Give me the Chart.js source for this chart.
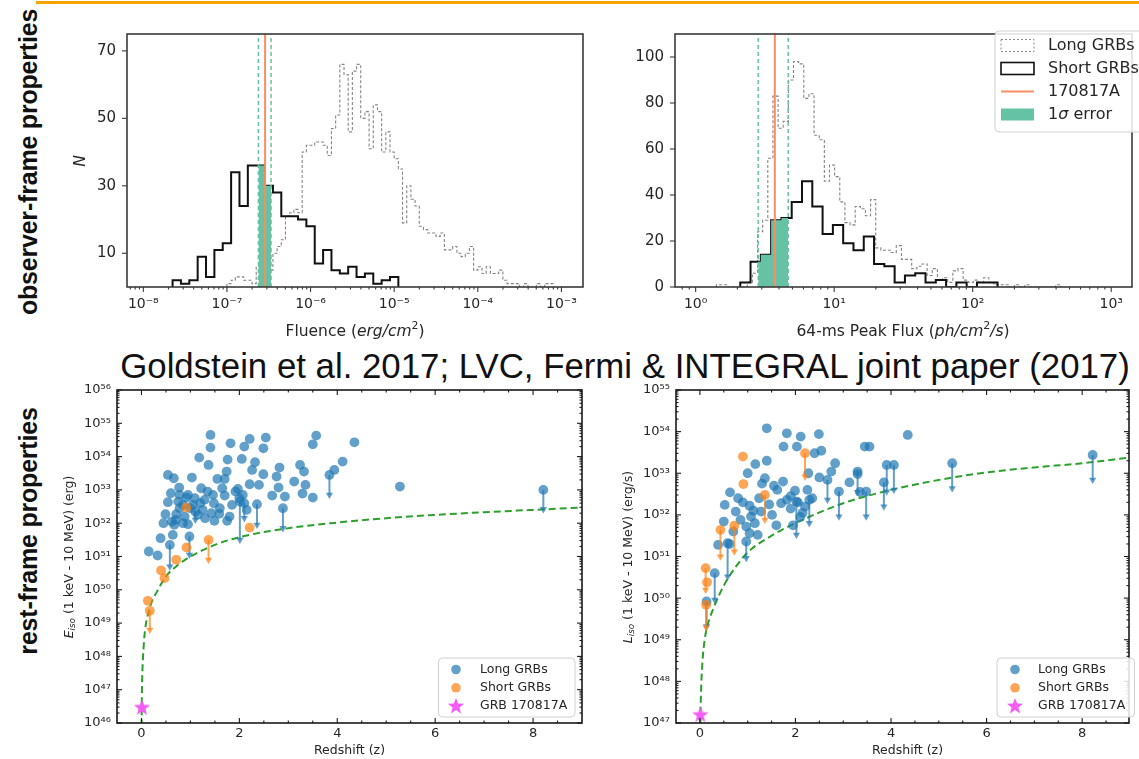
<!DOCTYPE html>
<html>
<head>
<meta charset="utf-8">
<script src="https://cdn.jsdelivr.net/npm/chart.js@4.4.1/dist/chart.umd.min.js"></script>
<style>
body { margin: 0; background: #fff; width: 1139px; height: 759px; overflow: hidden; position: relative; }
canvas { position: absolute; left: 0; top: 0; }
#bar { position: absolute; left: 36px; top: 1px; width: 1103px; height: 3px; background: #f5a300; }
.side { position: absolute; transform: translate(-50%, -50%) rotate(-90deg); white-space: nowrap;
        font: bold 25px "Liberation Sans", sans-serif; color: #111; letter-spacing: -0.2px; }
#ref { position: absolute; left: 625px; top: 366px; transform: translate(-50%, -50%); white-space: nowrap;
       font: 34.8px "Liberation Sans", sans-serif; color: #111; }
</style>
</head>
<body>
<div id="bar"></div>
<div class="side" style="left:28px;top:162px">observer-frame properties</div>
<div class="side" style="left:28px;top:531px">rest-frame properties</div>
<div id="ref">Goldstein et al. 2017; LVC, Fermi &amp; INTEGRAL joint paper (2017)</div>
<canvas id="cFluence" width="1139" height="759"></canvas>
<canvas id="cFlux" width="1139" height="759"></canvas>
<canvas id="cEiso" width="1139" height="759"></canvas>
<canvas id="cLiso" width="1139" height="759"></canvas>
<script>
const W = 1139, H = 759;
const FONT = '"DejaVu Sans", sans-serif';
Chart.defaults.font.family = FONT;
Chart.defaults.color = '#262626';

// ===================== DATA: observer frame =====================
// fluence histograms, bins in log10(erg/cm2)
const fluenceShortStart = -7.65, fluenceShortWidth = 0.1;
const fluenceShort = [2,1,2,9,3,11,13,34,24,36,36,30,28,21,21,20,18,7,11,5,4,6,3,4,1,2,3];
const fluenceLongStart = -7.0, fluenceLongWidth = 0.05;
const fluenceLong = [1,2,3,3,2,2,1,6,8,2, 5,10,12,14,21,22,23,22,40,42,
                     42,43,43,42,39,47,51,66,63,46, 64,66,50,52,41,54,52,40,46,40,
                     38,35,19,30,26,24,18,17,16,16, 15,16,11,11,12,10,9,10,12,5,
                     6,4,6,4,4,5,2,1,1,1, 0,1,0,0,1,0,1,1];
const fluence170817 = [2.38e-7, 2.86e-7, 3.37e-7];   // low, value, high
const fluenceTicks = [1e-8, 1e-7, 1e-6, 1e-5, 1e-4, 1e-3];
const fluenceCountTicks = [10, 30, 50, 70];

// 64-ms peak flux histograms, bins in log10(ph/cm2/s)
const fluxShortStart = 0.322, fluxShortWidth = 0.0743;
const fluxShort = [2,11,14,29,30,37,46,35,23,27,19,16,22,10,9,2,5,6,2,3,0,2,0,2,2];
const fluxLongStart = 0.15, fluxLongWidth = 0.0371;
const fluxLong = [1,1,0,0,0,0,2,6,24,29, 56,83,69,72,90,98,97,82,84,66,
                  64,46,53,48,37,28,27,35,34,31, 38,17,16,16,15,18,12,12,8,9,
                  10,5,8,3,4,2,7,8,3,2, 3,2,4,2,1,1,1,0,1,0,
                  1,0,0,0,0,0,1];
const flux170817 = [2.83, 3.73, 4.66];
const fluxTicks = [1, 10, 100, 1000];
const fluxCountTicks = [0, 20, 40, 60, 80, 100];

// ===================== DATA: rest frame [z, log10 value] =====================
const eisoLong = [[1.41,54.65],[1.41,54.27],[1.82,54.40],[2.21,54.53],[2.10,54.30],[2.54,54.57],[2.49,54.25],[3.57,54.63],[3.50,54.37],[4.35,54.43],
  [1.18,53.97],[1.37,53.75],[1.76,53.91],[2.05,53.93],[2.32,53.83],[2.26,53.60],[2.82,53.67],[3.24,53.75],[3.32,53.55],[4.11,53.85],[3.94,53.60],
  [0.54,53.45],[0.66,53.35],[1.03,53.37],[1.55,53.33],[1.70,53.33],[1.74,53.55],[2.49,53.47],[2.76,53.40],[3.12,53.25],[3.35,53.15],[2.80,53.07],
  [2.93,52.80],[2.67,52.83],[3.29,52.89],[3.50,52.77],[2.21,53.17],[1.97,53.03],[1.22,53.05],[0.77,53.07],[0.78,52.85],[5.28,53.10],
  [0.54,52.63],[0.75,52.65],[0.92,52.77],[1.09,52.75],[1.29,52.70],[1.46,52.85],[1.48,52.60],[1.70,52.83],[1.85,52.55],[1.92,52.95],[2.07,52.85],[0.78,52.45],
  [0.49,52.27],[0.71,52.27],[0.88,52.20],[1.25,52.40],[1.43,52.30],[1.59,52.28],[1.75,52.07],[1.49,52.07],
  [0.67,51.95],[0.85,52.00],[0.95,51.97],[0.64,51.65],[0.39,51.55],[0.15,51.15],[0.33,51.03],
  [1.05,52.55],[1.15,52.25],[0.62,52.05],
  [0.60,52.90],[0.85,52.55],[1.00,52.45],[1.20,52.60],[1.35,52.95],[1.60,52.45],[1.80,52.20],[2.00,52.75],
  [2.15,52.40],[0.70,52.10],[0.95,52.85],[1.30,52.15],[0.45,52.00],[1.65,53.05],[2.40,53.15]];
const eisoLongLimits = [[2.01,52.65,51.50],[2.36,52.57,51.95],[2.89,52.45,51.85],[3.84,53.45,52.85],[1.10,52.35,52.10],
  [0.98,51.60,51.05],[0.58,51.35,50.70],[2.10,52.60,52.15],[8.21,53.00,52.42]];
const eisoShort = [[0.915,52.47],[2.21,51.87],[0.92,51.27],[0.71,50.90],[0.40,50.58],[0.47,50.35],[0.13,49.67]];
const eisoShortLimits = [[1.37,51.50,50.90],[0.17,49.37,48.80]];
const eisoGRB = [[0.0098,46.47]];
const eisoCurve = [[0.003,45.9],[0.005,46.4],[0.01,47.0],[0.02,47.6],[0.04,48.2],[0.07,48.75],[0.1,49.05],[0.15,49.35],[0.2,49.6],
  [0.3,49.9],[0.5,50.4],[0.75,50.75],[1,51.0],[1.5,51.35],[2,51.58],[3,51.85],[4,52.02],[5,52.15],[6,52.25],[7,52.33],[8,52.4],[9,52.47]];

const lisoLong = [[1.40,54.08],[1.82,53.96],[2.11,53.88],[2.49,53.94],[1.75,53.64],[2.03,53.64],[3.45,53.64],[3.55,53.64],[4.35,53.92],
  [2.40,53.48],[2.54,53.54],[1.16,53.22],[1.40,53.30],[1.00,53.00],[2.83,53.24],[2.27,53.00],[2.75,53.04],
  [1.36,52.88],[1.74,52.80],[1.55,52.70],[2.50,52.90],[3.13,52.78],[0.63,52.54],[0.52,52.24],[1.04,52.22],[1.24,52.40],[1.62,52.60],[1.82,52.36],[1.99,52.58],
  [0.75,52.08],[0.85,51.88],[1.07,51.96],[1.28,52.08],[1.51,52.00],[0.50,51.84],[0.97,51.72],[1.04,51.56],[1.21,51.52],[0.38,51.28],
  [1.90,52.15],[2.05,52.30],[2.20,52.20],[1.70,52.28],[2.10,51.95],[0.90,52.30],[1.12,52.10],[3.35,52.55],[3.30,52.98],[1.90,52.45],[2.25,52.60],[0.62,51.30],
  [0.80,52.40],[1.15,51.80],[1.45,52.25],[1.95,51.75],[2.15,52.05],[0.70,51.60],[1.30,52.75],[2.35,52.40],[1.60,51.75]];
const lisoLongLimits = [[3.30,53.04,52.55],[3.91,53.20,52.56],[4.06,53.20,52.60],[2.67,52.84,52.36],[2.91,52.56,51.96],[3.48,52.56,51.96],
  [3.85,52.78,52.20],[2.02,52.32,51.52],[2.29,52.36,51.80],[0.58,51.32,50.52],[0.97,51.36,50.96],[0.31,50.60,49.96],
  [5.28,53.24,52.64],[8.22,53.44,52.84],[0.14,49.92,49.32]];
const lisoShort = [[0.90,53.40],[0.91,52.74],[0.15,50.38]];
const lisoShortLimits = [[2.20,53.48,52.92],[1.36,52.48,51.88],[0.43,51.64,51.00],[0.72,51.74,51.12],[0.12,50.72,50.20],[0.13,49.84,49.30]];
const lisoGRB = [[0.0098,47.2]];
const lisoCurve = [[0.003,45.9],[0.005,46.4],[0.01,47.0],[0.02,47.6],[0.05,48.4],[0.1,49.0],[0.15,49.3],[0.2,49.5],[0.3,49.8],
  [0.5,50.3],[0.75,50.75],[1,51.1],[1.5,51.5],[2,51.8],[3,52.28],[4,52.6],[5,52.84],[6,53.02],[7,53.14],[8,53.24],[9,53.38]];

const redshiftTicks = [0, 2, 4, 6, 8];
const redshiftMinor = [0.5, 1, 1.5, 2.5, 3, 3.5, 4.5, 5, 5.5, 6.5, 7, 7.5, 8.5];

// ===================== helpers =====================
const BLUE = 'rgba(31,119,180,0.7)';
const ORANGE = 'rgba(255,127,14,0.7)';
const GREEN = '#66c2a5';
const SALMON = '#fc8d62';
const pow = v => Math.pow(10, v);
const supMap = {'-': '\u207b', '0': '\u2070', '1': '\u00b9', '2': '\u00b2', '3': '\u00b3', '4': '\u2074',
                '5': '\u2075', '6': '\u2076', '7': '\u2077', '8': '\u2078', '9': '\u2079'};
const pow10Label = v => '10' + String(Math.round(Math.log10(v))).split('').map(c => supMap[c]).join('');

function decades(a, b) {
  const out = [];
  for (let e = a; e <= b; e++) out.push(pow(e));
  return out;
}
function minorLog(a, b) {
  const out = [];
  for (let e = a; e <= b; e++) for (let k = 2; k <= 9; k++) out.push(k * pow(e));
  return out;
}

function histPoints(start, width, counts) {
  const pts = [{x: pow(start), y: 0}];
  counts.forEach((c, i) => pts.push({x: pow(start + i * width), y: c}));
  pts.push({x: pow(start + counts.length * width), y: 0});
  return pts;
}
// part of a histogram between lo and hi, for the filled 1-sigma band
function histSlice(start, width, counts, lo, hi) {
  const a = Math.log10(lo), b = Math.log10(hi);
  const at = v => counts[Math.floor((v - start) / width)] || 0;
  const pts = [{x: lo, y: at(a)}];
  for (let i = 0; i <= counts.length; i++) {
    const e = start + i * width;
    if (e > a && e < b) pts.push({x: pow(e), y: counts[i] || 0});
  }
  pts.push({x: hi, y: at(b - 1e-9)});
  return pts;
}

const pts = rows => rows.map(r => ({x: r[0], y: pow(r[1])}));
const limitTips = rows => rows.map(r => ({x: r[0], y: pow(r[2])}));
const limitSegs = rows => rows.flatMap(r => [{x: r[0], y: pow(r[1])}, {x: r[0], y: pow(r[2])}, {x: r[0], y: null}]);

function drawStar(ctx, cx, cy, R, r) {
  ctx.beginPath();
  for (let i = 0; i < 10; i++) {
    const ang = -Math.PI / 2 + i * Math.PI / 5;
    const rad = i % 2 ? r : R;
    ctx.lineTo(cx + rad * Math.cos(ang), cy + rad * Math.sin(ang));
  }
  ctx.closePath();
}
const STAR = '#f45cf4';
const starImg = (() => {
  const c = document.createElement('canvas');
  c.width = c.height = 20;
  const g = c.getContext('2d');
  drawStar(g, 10, 10.5, 8.5, 3.6);
  g.fillStyle = STAR;
  g.fill();
  return c;
})();

// text with italic / superscript / subscript pieces
function drawRich(ctx, segs, x, y, size, align) {
  const fontFor = s => (s.it ? 'italic ' : '') + ((s.sup || s.sub) ? size * 0.7 : size) + 'px ' + FONT;
  let total = 0;
  const widths = segs.map(s => { ctx.font = fontFor(s); const w = ctx.measureText(s.t).width; total += w; return w; });
  let cx = align === 'center' ? x - total / 2 : x;
  ctx.textAlign = 'left';
  ctx.textBaseline = 'middle';
  segs.forEach((s, i) => {
    ctx.font = fontFor(s);
    const dy = s.sup ? -0.38 * size : s.sub ? 0.25 * size : 0;
    ctx.fillText(s.t, cx, y + dy);
    cx += widths[i];
  });
}

// box around the axes plus tick marks
function framePlugin(id, spec) {
  return {
    id,
    afterDatasetsDraw(chart) {
      const {ctx, chartArea: a, scales} = chart;
      ctx.save();
      ctx.strokeStyle = spec.color;
      ctx.lineWidth = spec.tickWidth;
      spec.marks.forEach(m => {
        const sc = scales[m.axis];
        const s = m.out ? -1 : 1;
        m.values.forEach(v => {
          const p = sc.getPixelForValue(v);
          if (m.axis === 'x' && (p < a.left - 0.5 || p > a.right + 0.5)) return;
          if (m.axis === 'y' && (p < a.top - 0.5 || p > a.bottom + 0.5)) return;
          m.sides.forEach(side => {
            ctx.beginPath();
            if (side === 'bottom') { ctx.moveTo(p, a.bottom); ctx.lineTo(p, a.bottom - s * m.len); }
            if (side === 'top') { ctx.moveTo(p, a.top); ctx.lineTo(p, a.top + s * m.len); }
            if (side === 'left') { ctx.moveTo(a.left, p); ctx.lineTo(a.left + s * m.len, p); }
            if (side === 'right') { ctx.moveTo(a.right, p); ctx.lineTo(a.right - s * m.len, p); }
            ctx.stroke();
          });
        });
      });
      ctx.lineWidth = spec.width;
      ctx.strokeRect(a.left, a.top, a.right - a.left, a.bottom - a.top);
      ctx.restore();
    }
  };
}

function titlesPlugin(id, items) {
  return {
    id,
    afterDraw(chart) {
      const ctx = chart.ctx;
      items.forEach(it => {
        ctx.save();
        ctx.translate(it.x, it.y);
        if (it.rot) ctx.rotate(-Math.PI / 2);
        ctx.fillStyle = '#262626';
        drawRich(ctx, it.segs, 0, 0, it.size, 'center');
        ctx.restore();
      });
    }
  };
}

function legendPlugin(id, box, rows) {
  return {
    id,
    afterDraw(chart) {
      const ctx = chart.ctx;
      ctx.save();
      ctx.beginPath();
      ctx.roundRect(box.x, box.y, box.w, box.h, 4);
      ctx.fillStyle = 'rgba(255,255,255,0.85)';
      ctx.fill();
      ctx.strokeStyle = '#d0d0d0';
      ctx.lineWidth = 1;
      ctx.stroke();
      rows.forEach(r => {
        const y = r.y, x0 = box.mx, x1 = box.mx + box.mw, xc = box.mx + box.mw / 2;
        ctx.setLineDash([]);
        if (r.kind === 'dashrect') {
          ctx.setLineDash([2, 2]); ctx.strokeStyle = '#888'; ctx.lineWidth = 1;
          ctx.strokeRect(x0, y - 6, box.mw, 12);
        } else if (r.kind === 'rect') {
          ctx.strokeStyle = '#111'; ctx.lineWidth = 1.6;
          ctx.strokeRect(x0, y - 6, box.mw, 12);
        } else if (r.kind === 'line') {
          ctx.strokeStyle = r.color; ctx.lineWidth = 2;
          ctx.beginPath(); ctx.moveTo(x0, y); ctx.lineTo(x1, y); ctx.stroke();
        } else if (r.kind === 'fill') {
          ctx.fillStyle = r.color; ctx.fillRect(x0, y - 6, box.mw, 12);
        } else if (r.kind === 'circle') {
          ctx.fillStyle = r.color; ctx.beginPath(); ctx.arc(xc, y, 4.8, 0, 2 * Math.PI); ctx.fill();
        } else if (r.kind === 'star') {
          drawStar(ctx, xc, y + 0.5, 8.5, 3.6); ctx.fillStyle = STAR; ctx.fill();
        }
        ctx.fillStyle = '#262626';
        drawRich(ctx, r.label, box.tx, y, box.size, 'left');
      });
      ctx.restore();
    }
  };
}

// pins the chart area to the given pixel box
function baseOptions(area, scales) {
  return {
    responsive: false, animation: false, devicePixelRatio: 1, events: [],
    layout: {padding: {left: area.l - 80, top: area.t, right: W - area.r, bottom: H - area.b - 30}},
    plugins: {legend: {display: false}, tooltip: {enabled: false}},
    scales
  };
}
function axis(type, min, max, ticks, label, pad, size, fit) {
  return {
    type, min, max, bounds: 'data',
    grid: {display: false, drawTicks: false},
    border: {display: false},
    afterBuildTicks: s => { s.ticks = ticks.map(v => ({value: v})); },
    ticks: {callback: label, autoSkip: false, maxRotation: 0, minRotation: 0, padding: pad,
            font: {size, family: FONT}, color: '#262626'},
    afterFit: fit
  };
}
const fitX = s => { s.height = 30; };
const fitY = s => { s.width = 80; };

// ===================== FLUENCE =====================
(function () {
  const area = {l: 127, t: 34, r: 583, b: 287};
  const [lo, val, hi] = fluence170817;
  const yMax = 75;
  new Chart(document.getElementById('cFluence'), {
    type: 'scatter',
    data: {datasets: [
      {data: [{x: val, y: 0}, {x: val, y: yMax}], showLine: true, borderColor: SALMON, borderWidth: 2, pointRadius: 0},
      {data: [{x: lo, y: 0}, {x: lo, y: yMax}], showLine: true, borderColor: GREEN, borderWidth: 1.5, borderDash: [4, 3], pointRadius: 0},
      {data: [{x: hi, y: 0}, {x: hi, y: yMax}], showLine: true, borderColor: GREEN, borderWidth: 1.5, borderDash: [4, 3], pointRadius: 0},
      {data: histSlice(fluenceShortStart, fluenceShortWidth, fluenceShort, lo, hi), showLine: true, stepped: true,
       fill: 'origin', backgroundColor: GREEN, borderColor: 'rgba(0,0,0,0)', borderWidth: 0, pointRadius: 0},
      {data: histPoints(fluenceShortStart, fluenceShortWidth, fluenceShort), showLine: true, stepped: true,
       borderColor: '#111', borderWidth: 2, pointRadius: 0},
      {data: histPoints(fluenceLongStart, fluenceLongWidth, fluenceLong), showLine: true, stepped: true,
       borderColor: '#858585', borderWidth: 1.1, borderDash: [3, 2], pointRadius: 0}
    ]},
    options: baseOptions(area, {
      x: axis('logarithmic', pow(-8.195), pow(-2.742), fluenceTicks, pow10Label, 9, 14, fitX),
      y: axis('linear', 0, yMax, fluenceCountTicks, v => String(v), 11, 15, fitY)
    }),
    plugins: [
      framePlugin('frameA', {color: '#3a3a3a', width: 1.6, tickWidth: 1.1, marks: [
        {axis: 'x', values: fluenceTicks, len: 5, out: true, sides: ['bottom']},
        {axis: 'x', values: minorLog(-9, -3), len: 2.5, out: true, sides: ['bottom']},
        {axis: 'y', values: fluenceCountTicks, len: 5, out: true, sides: ['left']}
      ]}),
      titlesPlugin('titlesA', [
        {x: 355, y: 332, size: 15.5, segs: [{t: 'Fluence ('}, {t: 'erg/cm', it: true}, {t: '2', sup: true}, {t: ')'}]},
        {x: 81, y: 161, size: 15.5, rot: true, segs: [{t: 'N', it: true}]}
      ])
    ]
  });
})();

// ===================== PEAK FLUX =====================
(function () {
  const area = {l: 675, t: 34, r: 1132, b: 287};
  const [lo, val, hi] = flux170817;
  const yMax = 110;
  new Chart(document.getElementById('cFlux'), {
    type: 'scatter',
    data: {datasets: [
      {data: [{x: val, y: 0}, {x: val, y: yMax}], showLine: true, borderColor: SALMON, borderWidth: 2, pointRadius: 0},
      {data: [{x: lo, y: 0}, {x: lo, y: yMax}], showLine: true, borderColor: GREEN, borderWidth: 1.5, borderDash: [4, 3], pointRadius: 0},
      {data: [{x: hi, y: 0}, {x: hi, y: yMax}], showLine: true, borderColor: GREEN, borderWidth: 1.5, borderDash: [4, 3], pointRadius: 0},
      {data: histSlice(fluxShortStart, fluxShortWidth, fluxShort, lo, hi), showLine: true, stepped: true,
       fill: 'origin', backgroundColor: GREEN, borderColor: 'rgba(0,0,0,0)', borderWidth: 0, pointRadius: 0},
      {data: histPoints(fluxShortStart, fluxShortWidth, fluxShort), showLine: true, stepped: true,
       borderColor: '#111', borderWidth: 2, pointRadius: 0},
      {data: histPoints(fluxLongStart, fluxLongWidth, fluxLong), showLine: true, stepped: true,
       borderColor: '#858585', borderWidth: 1.1, borderDash: [3, 2], pointRadius: 0}
    ]},
    options: baseOptions(area, {
      x: axis('logarithmic', pow(-0.149), pow(3.15), fluxTicks, pow10Label, 9, 14, fitX),
      y: axis('linear', 0, yMax, fluxCountTicks, v => String(v), 11, 15, fitY)
    }),
    plugins: [
      framePlugin('frameB', {color: '#3a3a3a', width: 1.6, tickWidth: 1.1, marks: [
        {axis: 'x', values: fluxTicks, len: 5, out: true, sides: ['bottom']},
        {axis: 'x', values: minorLog(-1, 3), len: 2.5, out: true, sides: ['bottom']},
        {axis: 'y', values: fluxCountTicks, len: 5, out: true, sides: ['left']}
      ]}),
      titlesPlugin('titlesB', [
        {x: 903, y: 332, size: 15.5, segs: [{t: '64-ms Peak Flux ('}, {t: 'ph/cm', it: true}, {t: '2', sup: true}, {t: '/s', it: true}, {t: ')'}]}
      ]),
      legendPlugin('legendB', {x: 995, y: 31, w: 170, h: 101, mx: 1001, mw: 33, tx: 1048, size: 16}, [
        {y: 45.5, kind: 'dashrect', label: [{t: 'Long GRBs'}]},
        {y: 68.5, kind: 'rect', label: [{t: 'Short GRBs'}]},
        {y: 91.5, kind: 'line', color: SALMON, label: [{t: '170817A'}]},
        {y: 114.5, kind: 'fill', color: GREEN, label: [{t: '1'}, {t: '\u03c3', it: true}, {t: ' error'}]}
      ])
    ]
  });
})();

// ===================== REST FRAME =====================
function restFrame(id, area, yRange, xMax, d, yTitle, titleX, legendBox) {
  const [e0, e1] = yRange;
  new Chart(document.getElementById(id), {
    type: 'scatter',
    data: {datasets: [
      {data: pts(d.grb), pointStyle: starImg, pointRadius: 9},
      {data: limitTips(d.shortLim), pointStyle: 'triangle', rotation: 180, pointRadius: 4.2, backgroundColor: ORANGE, borderWidth: 0},
      {data: limitSegs(d.shortLim), showLine: true, spanGaps: false, borderColor: ORANGE, borderWidth: 2, pointRadius: 0},
      {data: pts(d.short.concat(d.shortLim)), pointRadius: 4.9, backgroundColor: ORANGE, borderWidth: 0},
      {data: limitTips(d.longLim), pointStyle: 'triangle', rotation: 180, pointRadius: 4.2, backgroundColor: BLUE, borderWidth: 0},
      {data: limitSegs(d.longLim), showLine: true, spanGaps: false, borderColor: BLUE, borderWidth: 2, pointRadius: 0},
      {data: pts(d.long.concat(d.longLim)), pointRadius: 4.9, backgroundColor: BLUE, borderWidth: 0},
      {data: pts(d.curve), showLine: true, borderColor: '#2ca02c', borderWidth: 2, borderDash: [7, 4], pointRadius: 0,
       cubicInterpolationMode: 'monotone'}
    ]},
    options: baseOptions(area, {
      x: axis('linear', -0.5, xMax, redshiftTicks, v => String(v), 3, 13, fitX),
      y: axis('logarithmic', pow(e0), pow(e1), decades(e0, e1), pow10Label, 6, 13, fitY)
    }),
    plugins: [
      framePlugin(id + 'frame', {color: '#1a1a1a', width: 1.6, tickWidth: 1.1, marks: [
        {axis: 'x', values: redshiftTicks, len: 5, sides: ['bottom', 'top']},
        {axis: 'x', values: redshiftMinor, len: 2.5, sides: ['bottom', 'top']},
        {axis: 'y', values: decades(e0, e1), len: 5, sides: ['left', 'right']},
        {axis: 'y', values: minorLog(e0, e1 - 1), len: 2.5, sides: ['left', 'right']}
      ]}),
      titlesPlugin(id + 'titles', [
        {x: (area.l + Math.min(area.r, W)) / 2, y: 751, size: 12.5, segs: [{t: 'Redshift (z)'}]},
        {x: titleX, y: 557, size: 12.5, rot: true, segs: yTitle}
      ]),
      legendPlugin(id + 'legend', legendBox, [
        {y: 669.5, kind: 'circle', color: BLUE, label: [{t: 'Long GRBs'}]},
        {y: 687.8, kind: 'circle', color: ORANGE, label: [{t: 'Short GRBs'}]},
        {y: 706, kind: 'star', label: [{t: 'GRB 170817A'}]}
      ])
    ]
  });
}

restFrame('cEiso', {l: 117, t: 390, r: 582, b: 723}, [46, 56], 9,
  {long: eisoLong, longLim: eisoLongLimits, short: eisoShort, shortLim: eisoShortLimits, grb: eisoGRB, curve: eisoCurve},
  [{t: 'E', it: true}, {t: 'iso', it: true, sub: true}, {t: ' (1 keV - 10 MeV) (erg)'}], 70,
  {x: 438.5, y: 658, w: 136.5, h: 59, mx: 446, mw: 20, tx: 480, size: 12.5});

restFrame('cLiso', {l: 676, t: 390, r: 1139, b: 723}, [47, 55], 8.98,
  {long: lisoLong, longLim: lisoLongLimits, short: lisoShort, shortLim: lisoShortLimits, grb: lisoGRB, curve: lisoCurve},
  [{t: 'L', it: true}, {t: 'iso', it: true, sub: true}, {t: ' (1 keV - 10 MeV) (erg/s)'}], 629,
  {x: 997, y: 658, w: 137.5, h: 59, mx: 1005, mw: 20, tx: 1038, size: 12.5});
</script>
</body>
</html>
